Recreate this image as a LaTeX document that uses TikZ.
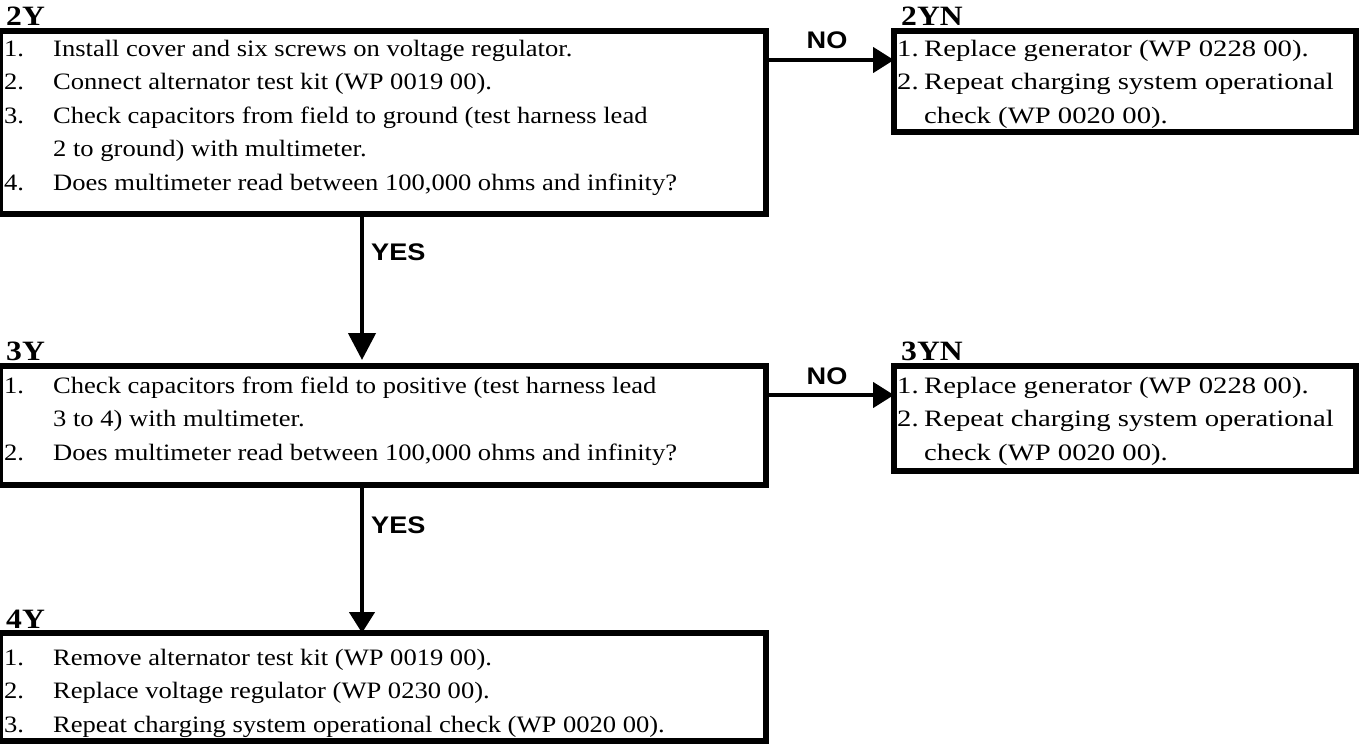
\documentclass[tikz,border=0pt]{standalone}
\usepackage{fontspec}
\setmainfont{Liberation Serif}[FakeStretch=1.13]
\newfontfamily\rightfont{Liberation Serif}[FakeStretch=1.22]
\newfontfamily\labfont{Liberation Sans}[FakeStretch=1.13]
\usetikzlibrary{arrows.meta}
\tikzset{
  box/.style={draw=black, line width=5.5pt, rectangle, inner sep=0pt, outer sep=0pt, anchor=north west},
  txt/.style={anchor=base west, inner sep=0pt, font=\fontsize{23.5}{33.5}\selectfont},
  rtxt/.style={anchor=base west, inner sep=0pt, font=\fontsize{23.5}{33.5}\selectfont\rightfont},
  ttl/.style={anchor=base west, inner sep=0pt, font=\fontsize{28}{30}\selectfont\bfseries},
  lab/.style={inner sep=0pt, font=\fontsize{24}{26}\selectfont\labfont\bfseries},
  flow/.style={line width=4.5pt, -{Triangle[length=21pt,width=25pt]}},
  flowlong/.style={line width=4.5pt, -{Triangle[length=27pt,width=27pt]}}
}
\begin{document}
\begin{tikzpicture}[x=1pt,y=-1pt]
\useasboundingbox (0,0) rectangle (1359,744);
% boxes
\node[box, minimum width=766pt, minimum height=183pt] (b2Y) at (0,31) {};
\node[box, minimum width=462pt, minimum height=101pt] (b2YN) at (894,31) {};
\node[box, minimum width=766pt, minimum height=119pt] (b3Y) at (0,366) {};
\node[box, minimum width=462pt, minimum height=105pt] (b3YN) at (894,366) {};
\node[box, minimum width=766pt, minimum height=108pt] (b4Y) at (0,633) {};
% titles
\node[ttl] (t2Y) at (6,25) {2Y};
\node[ttl] (t2YN) at (901,25) {2YN};
\node[ttl] (t3Y) at (6,360) {3Y};
\node[ttl] (t3YN) at (901,360) {3YN};
\node[ttl] (t4Y) at (6,628) {4Y};
% 2Y text
\node[txt] (n2a) at (4,56) {1.};
\node[txt] (l2a) at (53,56) {Install cover and six screws on voltage regulator.};
\node[txt] (n2b) at (4,89.5) {2.};
\node[txt] (l2b) at (53,89.5) {Connect alternator test kit (WP 0019 00).};
\node[txt] (n2c) at (4,123) {3.};
\node[txt] (l2c) at (53,123) {Check capacitors from field to ground (test harness lead};
\node[txt] (l2d) at (53,156.5) {2 to ground) with multimeter.};
\node[txt] (n2e) at (4,190) {4.};
\node[txt] (l2e) at (53,190) {Does multimeter read between 100,000 ohms and infinity?};
% 2YN text
\node[rtxt] (m2a) at (897,56) {1.};
\node[rtxt] (r2a) at (924,56) {Replace generator (WP 0228 00).};
\node[rtxt] (m2b) at (897,89.5) {2.};
\node[rtxt] (r2b) at (924,89.5) {Repeat charging system operational};
\node[rtxt] (r2c) at (924,123) {check (WP 0020 00).};
% 3Y text
\node[txt] (n3a) at (4,393) {1.};
\node[txt] (l3a) at (53,393) {Check capacitors from field to positive (test harness lead};
\node[txt] (l3b) at (53,426.5) {3 to 4) with multimeter.};
\node[txt] (n3c) at (4,460) {2.};
\node[txt] (l3c) at (53,460) {Does multimeter read between 100,000 ohms and infinity?};
% 3YN text
\node[rtxt] (m3a) at (897,393) {1.};
\node[rtxt] (r3a) at (924,393) {Replace generator (WP 0228 00).};
\node[rtxt] (m3b) at (897,426.5) {2.};
\node[rtxt] (r3b) at (924,426.5) {Repeat charging system operational};
\node[rtxt] (r3c) at (924,460) {check (WP 0020 00).};
% 4Y text
\node[txt] (n4a) at (4,665) {1.};
\node[txt] (l4a) at (53,665) {Remove alternator test kit (WP 0019 00).};
\node[txt] (n4b) at (4,698.5) {2.};
\node[txt] (l4b) at (53,698.5) {Replace voltage regulator (WP 0230 00).};
\node[txt] (n4c) at (4,732) {3.};
\node[txt] (l4c) at (53,732) {Repeat charging system operational check (WP 0020 00).};
% connectors
\draw[flow] ([yshift=-29pt]b2Y.north east) -- ([yshift=-29pt]b2YN.north west);
\draw[flow] ([yshift=-29pt]b3Y.north east) -- ([yshift=-29pt]b3YN.north west);
\draw[flowlong] ([xshift=362pt]b2Y.south west) -- ([xshift=362pt,yshift=6pt]b3Y.north west);
\draw[flow] ([xshift=362pt]b3Y.south west) -- ([xshift=362pt]b4Y.north west);
% labels
\node[lab] (no1) at (827,40) {NO};
\node[lab] (no2) at (827,376) {NO};
\node[lab, anchor=west] (yes1) at (371,252) {YES};
\node[lab, anchor=west] (yes2) at (371,525) {YES};
\end{tikzpicture}
\end{document}
